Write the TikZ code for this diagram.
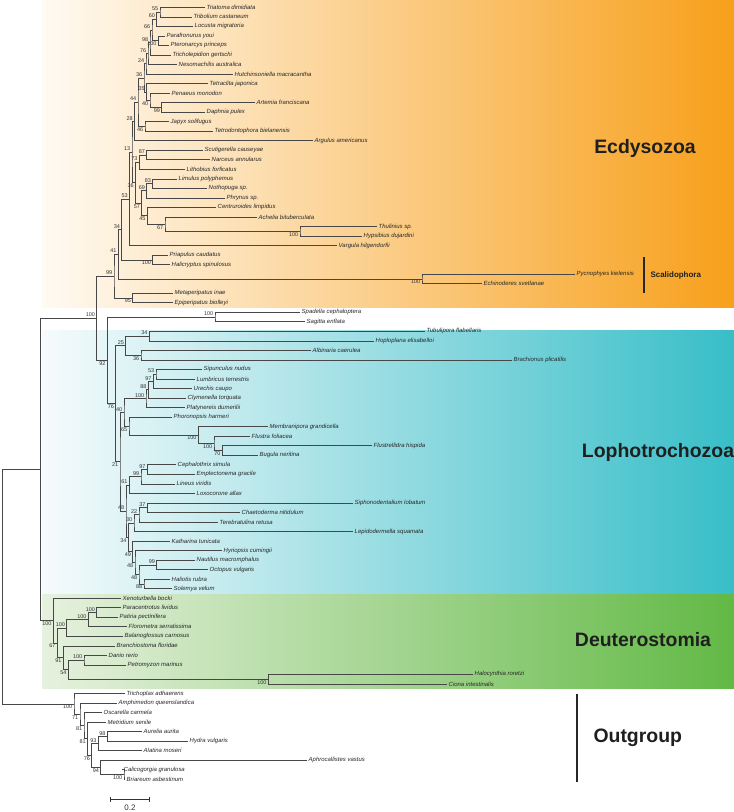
\documentclass[tikz,border=0pt]{standalone}
\usepackage{fontspec}
\setmainfont{Liberation Sans}
\usetikzlibrary{arrows.meta, calc}

\definecolor{ecdyleft}{RGB}{255,250,243}
\definecolor{ecdyright}{RGB}{247,160,27}
\definecolor{lophleft}{RGB}{246,251,252}
\definecolor{lophright}{RGB}{56,190,200}
\definecolor{deutleft}{RGB}{230,241,222}
\definecolor{deutright}{RGB}{98,185,69}

\begin{document}
\begin{tikzpicture}[x=1bp,y=-1bp,
  branch/.style={draw=black!72, line width=0.6bp},
  taxon/.style={anchor=west, inner sep=1.5bp, font=\fontsize{6}{7}\selectfont\itshape, text=black!85},
  boot/.style={inner sep=0.4bp, font=\fontsize{5.5}{6}\selectfont, text=black!80},
  bup/.style={anchor=south east, xshift=-1.2bp, yshift=0.6bp},
  bdn/.style={anchor=north east, xshift=-1.2bp, yshift=-0.6bp},
  groupname/.style={font=\fontsize{19.5}{20}\selectfont\bfseries, text=black!88},
  groupbar/.style={draw=black!85, line width=1.3bp}]
  \useasboundingbox (0,0) rectangle (734,812);

  % clade backgrounds
  \shade[left color=ecdyleft, right color=ecdyright] (42,0) rectangle (734,307);
  \shade[left color=lophleft, right color=lophright] (42,330) rectangle (734,594);
  \shade[left color=deutleft, right color=deutright] (42,594) rectangle (734,688);

  % tips: id / end of branch / species
  \foreach \leafid/\tipx/\leafname [count=\i] in {
    tdim/205/Triatoma dimidiata, tcas/192/Tribolium castaneum, lmig/193/Locusta migratoria,
    pyou/165/Parafronurus youi, ppri/169/Pteronarcys princeps, tger/171/Tricholepidion gertschi,
    naus/177/Nesomachilis australica, hmac/233/Hutchinsoniella macracantha, tjap/208/Tetraclita japonica,
    pmon/170/Penaeus monodon, afra/255/Artemia franciscana, dpul/205/Daphnia pulex,
    jsol/169/Japyx solifugus, tbie/213/Tetrodontophora bielanensis, aame/313/Argulus americanus,
    scau/203/Scutigerella causeyae, nann/210/Narceus annularus, lfor/185/Lithobius forficatus,
    lpol/177/Limulus polyphemus, nsp/207/Nothopuga sp., phsp/225/Phrynus sp.,
    clim/216/Centruroides limpidus, abit/257/Achelia bituberculata, thsp/377/Thulinius sp.,
    hduj/362/Hypsibius dujardini, vhil/337/Vargula hilgendorfii, pcau/168/Priapulus caudatus,
    hspi/170/Halicryptus spinulosus, pkie/575/Pycnophyes kielensis, esve/482/Echinoderes svetlanae,
    mina/173/Metaperipatus inae, ebio/173/Epiperipatus biolleyi, scep/300/Spadella cephaloptera,
    senf/305/Sagitta enflata, tfla/425/Tubulipora flabellaris, heli/374/Hoploplana elisabelloi,
    acae/311/Albinaria caerulea, bpli/512/Brachionus plicatilis, snud/202/Sipunculus nudus,
    lter/195/Lumbricus terrestris, ucau/192/Urechis caupo, ctor/186/Clymenella torquata,
    pdum/185/Platynereis dumerilii, pham/172/Phoronopsis harmeri, mgra/268/Membranipora grandicella,
    ffol/250/Flustra foliacea, fhis/372/Flustrellidra hispida, bner/258/Bugula neritina,
    csim/176/Cephalothrix simula, egra/195/Emplectonema gracile, lvir/175/Lineus viridis,
    lall/195/Loxocorone allax, slob/353/Siphonodentalium lobatum, cnit/240/Chaetoderma nitidulum,
    tret/218/Terebratulina retusa, lsqu/353/Lepidodermella squamata, ktun/170/Katharina tunicata,
    hcum/222/Hyriopsis cumingii, nmac/195/Nautilus macromphalus, ovul/208/Octopus vulgaris,
    hrub/170/Haliotis rubra, svel/172/Solemya velum, xboc/121/Xenoturbella bocki,
    pliv/121/Paracentrotus lividus, ppec/118/Patiria pectinifera, fser/127/Florometra serratissima,
    bcar/123/Balanoglossus carnosus, bflo/115/Branchiostoma floridae, drer/107/Danio rerio,
    pmar/126/Petromyzon marinus, hror/473/Halocynthia roretzi, cint/447/Ciona intestinalis,
    tadh/125/Trichoplax adhaerens, aque/117/Amphimedon queenslandica, ocar/102/Oscarella carmela,
    msen/106/Metridium senile, aaur/142/Aurelia aurita, hvul/188/Hydra vulgaris,
    amos/142/Alatina moseri, avas/307/Aphrocallistes vastus, cgra/122/Calicogorgia granulosa,
    base/125/Briareum asbestinum}{
    \coordinate (\leafid) at (\tipx,{7.3+9.53*(\i-1)});
    \node[taxon] (\leafid-name) at (\leafid) {\leafname};
  }

  % inner nodes, children first: id / x / child / child / bootstrap / side
  \foreach \cid/\cx/\ca/\cb/\bs/\side in {
    n55/160/tdim/tcas/55/bup, n60/156.7/n55/lmig/60/bup, n100h/158.3/pyou/ppri/100/bdn,
    n66/152/n60/n100h/66/bup, n98/150/n66/tger/98/bup, n76e/148/n98/naus/76/bup,
    n24/146/n76e/hmac/24/bup, n99c/161.7/afra/dpul/99/bdn, n40c/150/pmon/n99c/40/bdn,
    n35/146.5/tjap/n40c/35/bup, n36e/144/n24/n35/36/bup, n46/145/jsol/tbie/46/bdn,
    n44/138/n36e/n46/44/bup, n28/134.5/n44/aame/28/bup, n87/146.7/scau/nann/87/bup,
    n73/139.3/n87/lfor/73/bup, n83/152.7/lpol/nsp/83/bup, n69/146.7/n83/phsp/69/bup,
    n100t/300/thsp/hduj/100/bdn, n67/165/abit/n100t/67/bdn, n45/147.3/clim/n67/45/bdn,
    n57/141.7/n69/n45/57/bdn, n36m/135.5/n73/n57/36/bdn, n13/132/n28/n36m/13/bup,
    n53/129.5/n13/vhil/53/bup, n100p/152.7/pcau/hspi/100/bdn, n34e/121.7/n53/n100p/34/bup,
    n100k/422/pkie/esve/100/bdn, n41/118.3/n34e/n100k/41/bup, n95/132.7/mina/ebio/95/bdn,
    n99/114/n41/n95/99/bup, n100ch/215/scep/senf/100/bup,
    n34l/149.3/tfla/heli/34/bup, n36l/141/acae/bpli/36/bdn, n25/125.7/n34l/n36l/25/bup,
    n53a/156/snud/lter/53/bup, n97a/153.3/n53a/ucau/97/bup, n88a/148.3/n97a/ctor/88/bup,
    n100a/146/n88a/pdum/100/bup, n70b/222.3/fhis/bner/70/bdn, n100b2/214/ffol/n70b/100/bdn,
    n100b1/198.3/mgra/n100b2/100/bdn, n65/129/pham/n100b1/65/bdn, n40l/124/n100a/n65/40/bup,
    n97n/147.3/csim/egra/97/bup, n99n/141/n97n/lvir/99/bup, n61/129.3/n99n/lall/61/bup,
    n37/147.3/slob/cnit/37/bup, n22/139/n37/tret/22/bup, n30/134/n22/lsqu/30/bup,
    n99m/156.7/nmac/ovul/99/bup, n88m/144/hrub/svel/88/bdn, n48b/139/n99m/n88m/48/bdn,
    n48a/135/hcum/n48b/48/bdn, n49/132.7/ktun/n48a/49/bdn, n34m/128.3/n30/n49/34/bdn,
    n48/126/n61/n34m/48/bup, n21/120/n40l/n48/21/bdn, n76/115.7/n25/n21/76/bdn,
    n92/107.3/n100ch/n76/92/bdn, n100pr/96.7/n99/n92/100/bup,
    n100e1/96.7/pliv/ppec/100/bup, n100e2/88.3/n100e1/fser/100/bup, n100am/66.7/n100e2/bcar/100/bup,
    n100v/84/drer/pmar/100/bup, n100tu/268.3/hror/cint/100/bdn, n54/68.3/n100v/n100tu/54/bdn,
    n91/63.3/bflo/n54/91/bdn, n67d/57.3/n100am/n91/67/bdn, n100d/53.3/xboc/n67d/100/bdn,
    n98o/107.3/aaur/hvul/98/bup, n93/98.3/n98o/amos/93/bup, n100o/124/cgra/base/100/bdn,
    n94/100.7/avas/n100o/94/bdn, n76o/91.7/n93/n94/76/bdn, n81b/87.5/msen/n76o/81/bdn,
    n81a/84/ocar/n81b/81/bdn, n71/80/aque/n81a/71/bdn, n100og/74/tadh/n71/100/bdn}{
    \path let \p1=($(\ca)!0.5!(\cb)$) in coordinate (\cid) at (\cx*1bp,\y1);
    \draw[branch] (\ca) -| (\cid) |- (\cb);
    \node[boot,\side] (\cid-bs) at (\cid) {\bs};
  }

  % bilateria and root
  \path let \p1=($(n100pr)!0.5!(n100d)$) in coordinate (nbil) at (40.7bp,\y1);
  \draw[branch] (n100pr) -| (nbil) |- (n100d);
  \path let \p1=($(nbil)!0.5!(n100og)$) in coordinate (root) at (2.7bp,\y1);
  \draw[branch] (nbil) -| (root) |- (n100og);

  % group names
  \node[groupname] (ecdy) at (645,148) {Ecdysozoa};
  \node[groupname] (loph) at (658,452) {Lophotrochozoa};
  \node[groupname] (deut) at (643,640) {Deuterostomia};
  \node[groupname, anchor=west] (outg) at (590,738) {Outgroup};
  \node[font=\fontsize{8}{9}\selectfont\bfseries, anchor=west, text=black!88] (scal) at (647,275) {Scalidophora};
  \draw[groupbar] ([xshift=-3bp,yshift=18bp]scal.west) -- ([xshift=-3bp,yshift=-18bp]scal.west);
  \draw[groupbar] ([xshift=-13bp,yshift=44bp]outg.west) -- ([xshift=-13bp,yshift=-44bp]outg.west);

  % scale bar
  \coordinate (sbleft) at (110,799);
  \coordinate (sbright) at (150,799);
  \draw[{Bar[width=5bp]}-{Bar[width=5bp]}, line width=1bp, black!80] (sbleft) -- (sbright);
  \node[font=\fontsize{8}{9}\selectfont, text=black!80] (sblabel) at ($(sbleft)!0.5!(sbright)+(0,8.5)$) {0.2};
\end{tikzpicture}
\end{document}
